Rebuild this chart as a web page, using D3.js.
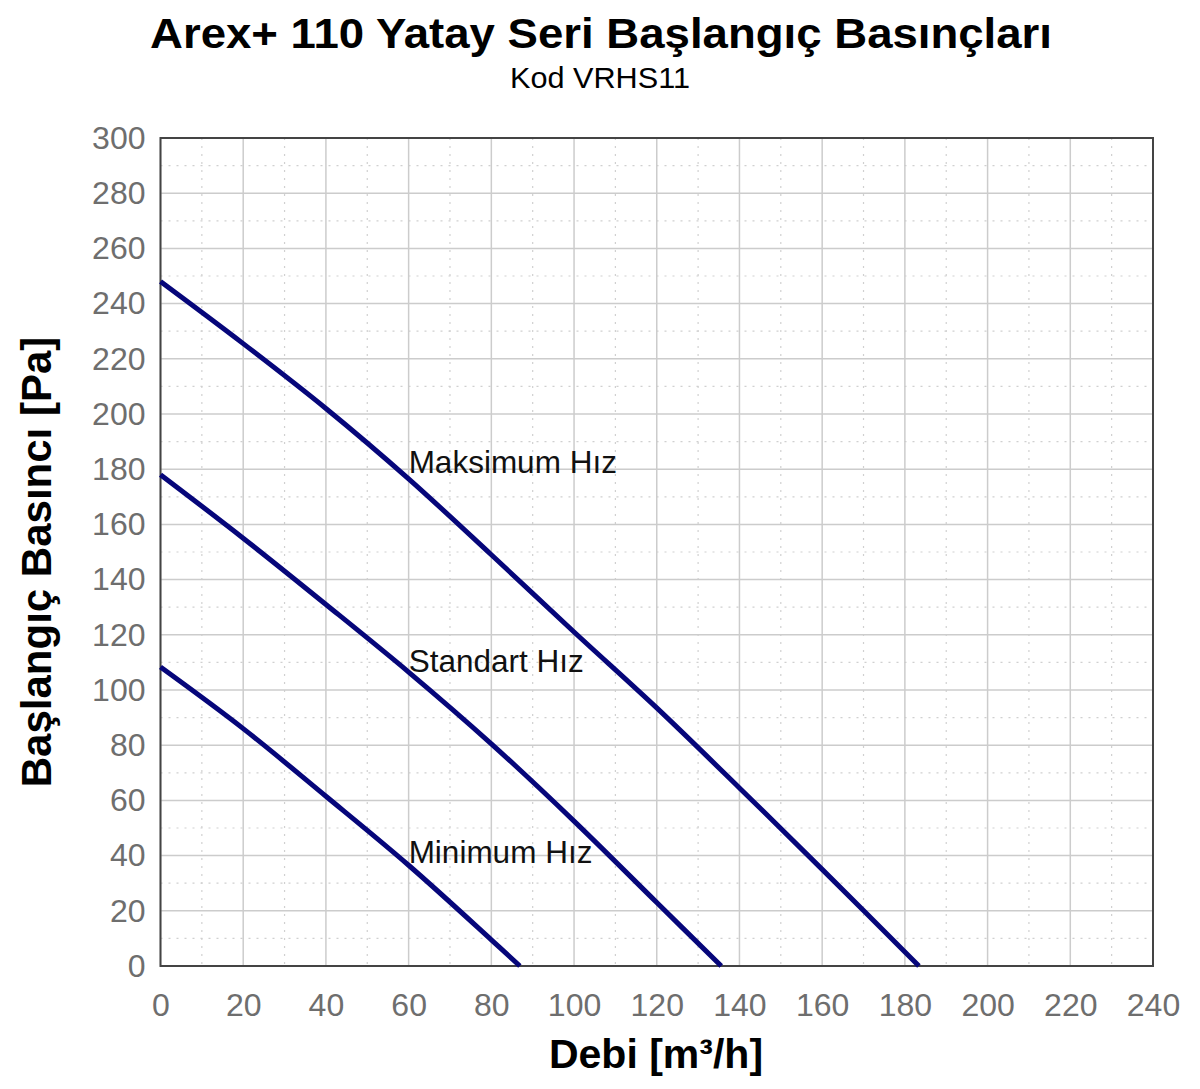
<!DOCTYPE html>
<html>
<head>
<meta charset="utf-8">
<script src="https://cdn.jsdelivr.net/npm/d3@7"></script>
<style>
  body { margin: 0; background: #fff; }
  text { font-family: "Liberation Sans", Arial, sans-serif; }
</style>
</head>
<body>
<svg id="chart"></svg>
<script>
var width = 1200, height = 1089;
var margin = { top: 138, right: 47, bottom: 123, left: 160.5 };
var plotW = width - margin.left - margin.right;
var plotH = height - margin.top - margin.bottom;

// data
var xTicks = [0, 20, 40, 60, 80, 100, 120, 140, 160, 180, 200, 220, 240];
var yTicks = [0, 20, 40, 60, 80, 100, 120, 140, 160, 180, 200, 220, 240, 260, 280, 300];
var xMinor = [10, 30, 50, 70, 90, 110, 130, 150, 170, 190, 210, 230];
var yMinor = [10, 30, 50, 70, 90, 110, 130, 150, 170, 190, 210, 230, 250, 270, 290];

var maksX = [0, 20, 40, 60, 80, 100, 120, 140, 160, 183.4];
var maksY = [248, 225.5, 202, 176.5, 149, 121, 93.5, 64.5, 35, 0];
var stdX = [0, 20, 40, 60, 80, 100, 120, 135.6];
var stdY = [178, 155, 131, 106.5, 80.5, 52.5, 23, 0];
var minX = [0, 20, 40, 60, 80, 86.9];
var minY = [108.3, 86, 61.5, 36.5, 9.5, 0];

var seriesNames = ['Maksimum Hız', 'Standart Hız', 'Minimum Hız'];
var labelX = [60, 60, 60];
var labelY = [178.8, 106.5, 37.3];

var series = [
  { name: seriesNames[0], xs: maksX, ys: maksY },
  { name: seriesNames[1], xs: stdX, ys: stdY },
  { name: seriesNames[2], xs: minX, ys: minY }
];

var svg = d3.select('#chart')
    .attr('width', width)
    .attr('height', height);

var x = d3.scaleLinear().domain([0, 240]).range([0, plotW]);
var y = d3.scaleLinear().domain([0, 300]).range([plotH, 0]);

var g = svg.append('g')
    .attr('transform', 'translate(' + margin.left + ',' + margin.top + ')');

// minor dotted grid
g.selectAll('.vminor').data(xMinor).enter().append('line')
    .attr('x1', function (d) { return x(d); }).attr('x2', function (d) { return x(d); })
    .attr('y1', 0).attr('y2', plotH)
    .style('stroke', '#d0d0d0').style('stroke-width', 1.2)
    .style('stroke-dasharray', '2,6');
g.selectAll('.hminor').data(yMinor).enter().append('line')
    .attr('x1', 0).attr('x2', plotW)
    .attr('y1', function (d) { return y(d); }).attr('y2', function (d) { return y(d); })
    .style('stroke', '#d0d0d0').style('stroke-width', 1.2)
    .style('stroke-dasharray', '2,6');

// major grid
g.selectAll('.vmajor').data(xTicks).enter().append('line')
    .attr('x1', function (d) { return x(d); }).attr('x2', function (d) { return x(d); })
    .attr('y1', 0).attr('y2', plotH)
    .style('stroke', '#cccccc').style('stroke-width', 1.5);
g.selectAll('.hmajor').data(yTicks).enter().append('line')
    .attr('x1', 0).attr('x2', plotW)
    .attr('y1', function (d) { return y(d); }).attr('y2', function (d) { return y(d); })
    .style('stroke', '#cccccc').style('stroke-width', 1.5);

// frame
g.append('rect')
    .attr('width', plotW).attr('height', plotH)
    .style('fill', 'none').style('stroke', '#444').style('stroke-width', 2);

// axes (labels only)
var xAxis = g.append('g')
    .attr('transform', 'translate(0,' + plotH + ')')
    .call(d3.axisBottom(x).tickValues(xTicks).tickSize(0).tickPadding(27));
var yAxis = g.append('g')
    .call(d3.axisLeft(y).tickValues(yTicks).tickSize(0).tickPadding(15));
[xAxis, yAxis].forEach(function (a) {
  a.select('.domain').remove();
  a.selectAll('text')
    .style('font-family', '"Liberation Sans", Arial, sans-serif')
    .style('font-size', '32px')
    .style('fill', '#6e6e6e');
});

// lines
var line = d3.line()
    .x(function (d) { return x(d[0]); })
    .y(function (d) { return y(d[1]); })
    .curve(d3.curveCatmullRom);

g.selectAll('.series').data(series).enter().append('path')
    .attr('d', function (s) { return line(d3.zip(s.xs, s.ys)); })
    .style('fill', 'none')
    .style('stroke', '#06067a')
    .style('stroke-width', 5);

// line labels
g.selectAll('.lbl').data(seriesNames).enter().append('text')
    .attr('x', function (d, i) { return x(labelX[i]); })
    .attr('y', function (d, i) { return y(labelY[i]); })
    .style('font-size', '31.5px')
    .style('fill', '#111')
    .text(function (d) { return d; });

// titles
var title = svg.append('text')
    .attr('x', 601).attr('y', 48)
    .attr('text-anchor', 'middle')
    .style('font-size', '42px').style('font-weight', 'bold')
    .text('Arex+ 110 Yatay Seri Başlangıç Basınçları');
title.attr('textLength', 902).attr('lengthAdjust', 'spacingAndGlyphs');

svg.append('text')
    .attr('x', 600).attr('y', 88)
    .attr('text-anchor', 'middle')
    .attr('textLength', 180).attr('lengthAdjust', 'spacingAndGlyphs')
    .style('font-size', '29px')
    .text('Kod VRHS11');

svg.append('text')
    .attr('x', 656).attr('y', 1068)
    .attr('text-anchor', 'middle')
    .style('font-size', '41px').style('font-weight', 'bold')
    .text('Debi [m³/h]');

svg.append('text')
    .attr('transform', 'translate(51,562) rotate(-90)')
    .attr('text-anchor', 'middle')
    .style('font-size', '42px').style('font-weight', 'bold')
    .text('Başlangıç Basıncı [Pa]');
</script>
</body>
</html>
